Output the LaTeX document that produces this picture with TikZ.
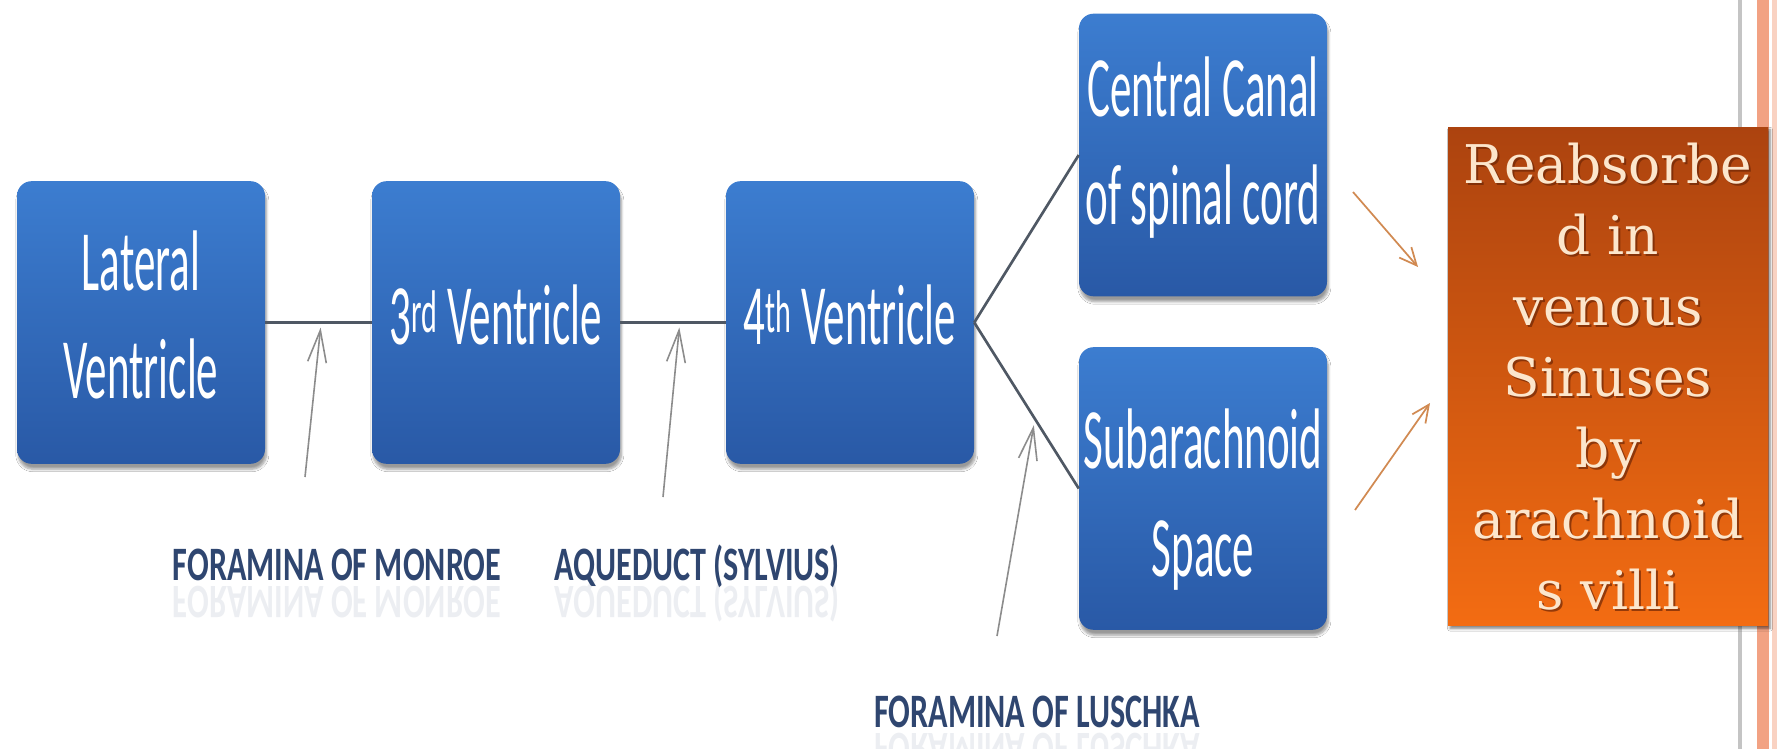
\documentclass[tikz,border=0pt]{standalone}
\usepackage{fontspec}
\usepackage{graphicx}
\setmainfont{Carlito}
\newfontfamily\serifx{DejaVu Serif}
\usetikzlibrary{arrows.meta,shadows.blur,calc}
\definecolor{boxtop}{HTML}{3C7DD0}
\definecolor{boxbot}{HTML}{2959A6}
\definecolor{connc}{HTML}{4F5864}
\definecolor{pgrey}{HTML}{8C8C8C}
\definecolor{parrow}{HTML}{D18A52}
\definecolor{lblc}{HTML}{2F4670}
\definecolor{ortop}{HTML}{AC430F}
\definecolor{ormid}{HTML}{DC5E10}
\definecolor{orbot}{HTML}{F36C12}
\definecolor{cream}{HTML}{FCE6CC}
\definecolor{txtshadow}{HTML}{6E2606}
\definecolor{bordergrey}{HTML}{C4C4C4}
\definecolor{bordersalmon}{HTML}{F2A283}
\definecolor{borderpink}{HTML}{F9D2C2}
\newcommand{\btext}[1]{\scalebox{0.5}[1]{\fontsize{64.5}{81}\selectfont\begin{tabular}{@{}c@{}}#1\end{tabular}}}
\newcommand{\lbltext}[1]{\scalebox{0.67}[1]{\fontsize{36}{36}\selectfont\bfseries #1}}
\newcommand{\lblrefl}[1]{\scalebox{0.67}[-1]{\fontsize{36}{36}\selectfont\bfseries #1}}
\newcommand{\reabfont}{\serifx\fontsize{40}{53.25}\selectfont}
\newcommand{\reabtext}{Reabsorbe\\d in\\venous\\Sinuses\\by\\arachnoid\\s villi}
\tikzset{
  bluebox/.style={rounded corners=11pt, top color=boxtop, bottom color=boxbot, draw=none,
    minimum width=186pt, minimum height=212pt, inner sep=0pt, text=white,
    blur shadow={shadow xshift=1pt, shadow yshift=-4pt, shadow opacity=40, shadow blur steps=6}},
  boxlabel/.style={text=white, inner sep=0pt},
  orbox/.style={draw=none, top color=ortop, middle color=ormid, bottom color=orbot,
    minimum width=240pt, minimum height=374pt, inner sep=0pt,
    blur shadow={shadow xshift=1.5pt, shadow yshift=-2pt, shadow opacity=50, shadow blur steps=6}},
  conn/.style={draw=connc, line width=2pt},
  pointer/.style={draw=pgrey, line width=1.2pt, -{Straight Barb[length=24pt,width=14pt]}},
  orarrow/.style={draw=parrow, line width=1.3pt, -{Straight Barb[length=13pt,width=12pt]}},
  lbl/.style={text=lblc, inner sep=0pt},
  lblghost/.style={text=lblc, inner sep=0pt, opacity=0.09}
}
\begin{document}
\begin{tikzpicture}[x=0.75pt,y=-0.75pt]
\fill[white] (0,0) rectangle (1777,749);
\useasboundingbox (0,0) rectangle (1777,749);
% right border
\fill[bordergrey] (1738,0) rectangle (1742,749);
\fill[bordersalmon] (1757,0) rectangle (1769,749);
\fill[borderpink] (1772,0) rectangle (1777,749);
% boxes
\node[bluebox] (lat) at (141,322.5) {};
\node[bluebox] (v3) at (496,322.5) {};
\node[bluebox] (v4) at (850,322.5) {};
\node[bluebox] (cc) at (1203,155) {};
\node[bluebox] (sub) at (1203,488.5) {};
\node[boxlabel] (lattx) at ($(lat.center)+(0,0)$) {\btext{Lateral\\Ventricle}};
\node[boxlabel] (v3tx) at ($(v3.center)+(0,0)$) {\btext{3\textsuperscript{rd} Ventricle}};
\node[boxlabel] (v4tx) at ($(v4.center)+(0,0)$) {\btext{4\textsuperscript{th} Ventricle}};
\node[boxlabel] (cctx) at ($(cc.center)+(0,-6)$) {\btext{Central Canal\\of spinal cord}};
\node[boxlabel] (subtx) at ($(sub.center)+(0,12)$) {\btext{Subarachnoid\\Space}};
\node[orbox] (reab) at (1608,376.5) {};
\node[text=txtshadow, align=center, opacity=0.7, inner sep=0pt, font=\reabfont] (reabsh) at ($(reab.center)+(2,2)$) {\reabtext};
\node[text=cream, align=center, inner sep=0pt, font=\reabfont] (reabtx) at (reab.center) {\reabtext};
% connectors
\draw[conn] (lat.east) -- (v3.west);
\draw[conn] (v3.east) -- (v4.west);
\draw[conn] (v4.east) -- (cc.west);
\draw[conn] (v4.east) -- (sub.west);
% pointers
\coordinate (mtail) at (305,477);
\coordinate (atail) at (663,497);
\coordinate (ltail) at (997,636);
\coordinate (mtip) at ($(lat.east)!0.52!(v3.west)+(0,5)$);
\coordinate (atip) at ($(v3.east)!0.56!(v4.west)+(0,5)$);
\coordinate (ltip) at ($(v4.east)!0.57!(sub.west)+(0,8)$);
\draw[pointer] (mtail) -- (mtip);
\draw[pointer] (atail) -- (atip);
\draw[pointer] (ltail) -- (ltip);
% orange arrows
\coordinate (o1s) at (1353,192);
\coordinate (o1e) at (1418,267);
\coordinate (o2s) at (1355,510);
\coordinate (o2e) at (1430,403);
\draw[orarrow] (o1s) -- (o1e);
\draw[orarrow] (o2s) -- (o2e);
% labels
\node[lbl, anchor=base] (monroe) at (337,580) {\lbltext{FORAMINA OF MONROE}};
\node[lblghost, anchor=base] (monroeg) at (337,586) {\lblrefl{FORAMINA OF MONROE}};
\node[lbl, anchor=base] (aqued) at (697,580) {\lbltext{AQUEDUCT (SYLVIUS)}};
\node[lblghost, anchor=base] (aquedg) at (697,586) {\lblrefl{AQUEDUCT (SYLVIUS)}};
\node[lbl, anchor=base] (luschka) at (1037,727) {\lbltext{FORAMINA OF LUSCHKA}};
\node[lblghost, anchor=base] (luschkag) at (1037,733) {\lblrefl{FORAMINA OF LUSCHKA}};
\end{tikzpicture}
\end{document}
